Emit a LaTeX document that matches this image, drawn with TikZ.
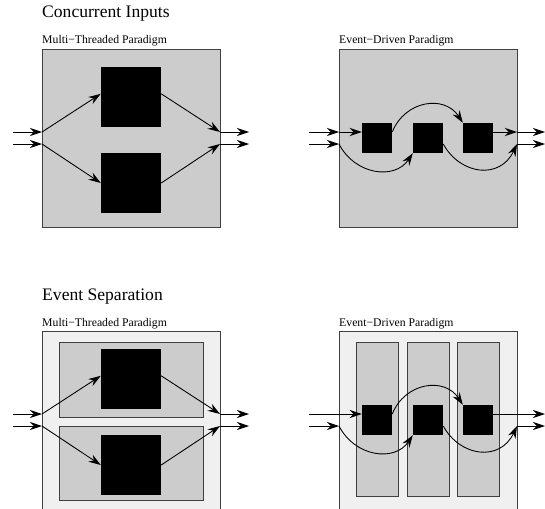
\documentclass[tikz,border=0pt]{standalone}
\usepackage{fontspec}
\setmainfont{Liberation Serif}
\usetikzlibrary{arrows.meta}
\tikzset{
  panel/.style={draw=black!75, fill=black!20, line width=0.7pt},
  outerpanel/.style={draw=black!75, fill=black!6, line width=0.7pt},
  bigtask/.style={fill=black, inner sep=0pt, minimum size=1.8cm},
  smalltask/.style={fill=black, inner sep=0pt, minimum size=0.9cm},
  flow/.style={-{Stealth[length=10.5pt,width=7pt,inset=3.5pt]}, line width=0.75pt},
  heading/.style={anchor=base west, inner sep=0pt, font=\fontsize{15}{17}\selectfont},
  caption/.style={anchor=base west, inner sep=0pt, font=\fontsize{10}{12}\selectfont}
}

\begin{document}
\begin{tikzpicture}[x=0.03cm,y=-0.03cm]
  \useasboundingbox (0,0) rectangle (545,508);
  \clip (0,0) rectangle (545,508);

  % headings
  \node[heading] (ciTitle) at (42,18) {Concurrent Inputs};
  \node[caption] (ciMT) at (42,44) {Multi−Threaded Paradigm};
  \node[caption] (ciED) at (339,44) {Event−Driven Paradigm};
  \node[heading] (esTitle) at (42,300) {Event Separation};
  \node[caption] (esMT) at (42,326) {Multi−Threaded Paradigm};
  \node[caption] (esED) at (339,326) {Event−Driven Paradigm};

  % concurrent inputs, threads
  \filldraw[panel] (42,49) rectangle (220,227);
  \node[bigtask] (ctA) at (131,97) {};
  \node[bigtask] (ctB) at (131,183) {};
  \coordinate (ctS1) at (13,132);  \coordinate (ctS2) at (13,144);
  \coordinate (ctL1) at (42,132);  \coordinate (ctL2) at (42,144);
  \coordinate (ctR1) at (220,132); \coordinate (ctR2) at (220,144);
  \coordinate (ctE1) at (249,132); \coordinate (ctE2) at (249,144);
  \draw[flow] (ctS1) -- (ctL1);
  \draw[flow] (ctS2) -- (ctL2);
  \draw[flow] (ctL1) -- (ctA.174);
  \draw[flow] (ctL2) -- (ctB.west);
  \draw[flow] (ctA.6) -- (ctR1);
  \draw[flow] (ctB.east) -- (ctR2);
  \draw[flow] (ctR1) -- (ctE1);
  \draw[flow] (ctR2) -- (ctE2);

  % concurrent inputs, events
  \filldraw[panel] (339,49) rectangle (517,227);
  \node[smalltask] (ceA) at (377,138) {};
  \node[smalltask] (ceB) at (428,138) {};
  \node[smalltask] (ceC) at (478,138) {};
  \coordinate (ceS1) at (309,132); \coordinate (ceS2) at (309,144);
  \coordinate (ceL1) at (339,132); \coordinate (ceL2) at (339,144);
  \coordinate (ceR1) at (517,132); \coordinate (ceR2) at (517,144);
  \coordinate (ceE1) at (545,132); \coordinate (ceE2) at (545,144);
  \draw[flow] (ceS1) -- (ceL1);
  \draw[flow] (ceS2) -- (ceL2);
  \draw[flow] (ceL1) -- (ceA.west |- ceL1);
  \draw[flow] (ceA.east |- ceL1) .. controls +(13,-32) and +(-18,-28) .. (ceC.north west);
  \draw[flow] (ceL2) .. controls +(16,31) and +(-18,27) .. (ceB.south west);
  \draw[flow] (ceB.east |- ceL2) .. controls +(17,31) and +(-17,36) .. (ceR2);
  \draw[flow] (ceC.east |- ceL1) -- (ceR1);
  \draw[flow] (ceR1) -- (ceE1);
  \draw[flow] (ceR2) -- (ceE2);

  % event separation, threads
  \filldraw[outerpanel] (42,331) rectangle (220,509);
  \filldraw[panel] (59,342) rectangle (203,417);
  \filldraw[panel] (59,426) rectangle (203,500);
  \node[bigtask] (stA) at (131,379) {};
  \node[bigtask] (stB) at (131,465) {};
  \coordinate (stS1) at (13,414);  \coordinate (stS2) at (13,426);
  \coordinate (stL1) at (42,414);  \coordinate (stL2) at (42,426);
  \coordinate (stR1) at (220,414); \coordinate (stR2) at (220,426);
  \coordinate (stE1) at (249,414); \coordinate (stE2) at (249,426);
  \draw[flow] (stS1) -- (stL1);
  \draw[flow] (stS2) -- (stL2);
  \draw[flow] (stL1) -- (stA.174);
  \draw[flow] (stL2) -- (stB.west);
  \draw[flow] (stA.6) -- (stR1);
  \draw[flow] (stB.east) -- (stR2);
  \draw[flow] (stR1) -- (stE1);
  \draw[flow] (stR2) -- (stE2);

  % event separation, events
  \filldraw[outerpanel] (339,331) rectangle (517,509);
  \foreach \x in {356,407,457}
    \filldraw[panel] (\x,342) rectangle +(42,154);
  \node[smalltask] (seA) at (377,420) {};
  \node[smalltask] (seB) at (428,420) {};
  \node[smalltask] (seC) at (478,420) {};
  \coordinate (seS1) at (309,414); \coordinate (seS2) at (309,426);
  \coordinate (seL2) at (339,426);
  \coordinate (seR2) at (517,426);
  \coordinate (seE1) at (545,414); \coordinate (seE2) at (545,426);
  \draw[flow] (seS1) -- (seA.west |- seS1);
  \draw[flow] (seS2) -- (seL2);
  \draw[flow] (seA.east |- seS1) .. controls +(13,-32) and +(-18,-28) .. (seC.north west);
  \draw[flow] (seL2) .. controls +(16,31) and +(-18,27) .. (seB.south west);
  \draw[flow] (seB.east |- seL2) .. controls +(17,31) and +(-17,36) .. (seR2);
  \draw[flow] (seC.east |- seS1) -- (seE1);
  \draw[flow] (seR2) -- (seE2);
\end{tikzpicture}
\end{document}
